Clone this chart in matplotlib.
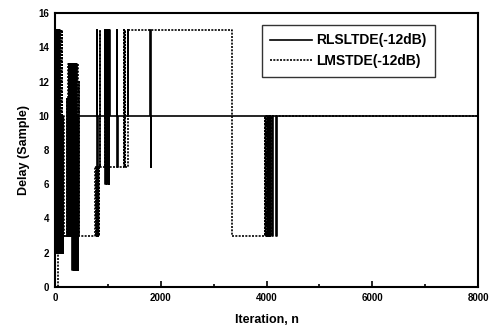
import matplotlib
matplotlib.use("Agg")
import matplotlib.pyplot as plt
from matplotlib.ticker import MultipleLocator

# RLSLTDE (-12dB) delay estimate, step trajectory (iteration, delay)
rls_n = [0, 10, 20, 30, 40, 50, 60, 70, 80, 90, 100, 110, 120, 130, 140, 150,
         160, 230, 240, 260, 270, 280, 290, 300, 310, 320, 330, 340, 350, 360,
         370, 380, 390, 400, 410, 420, 430, 440, 790, 800, 810,
         940, 955, 970, 985, 1000, 1015, 1030, 1045,
         1170, 1180, 1190, 1380, 1390, 1800, 1810, 1820,
         4110, 4120, 4180, 4190, 8000]
rls_d = [15, 2, 15, 2, 15, 2, 15, 2, 15, 2, 10, 2, 10, 2, 10, 2,
         3, 11, 3, 13, 3, 13, 3, 12, 3, 13, 1, 13, 1, 13,
         1, 13, 1, 13, 1, 10, 1, 10, 15, 7, 10,
         15, 6, 15, 6, 15, 6, 15, 10,
         15, 7, 10, 15, 10, 15, 7, 10,
         3, 10, 3, 10, 10]

# LMSTDE (-12dB) delay estimate, step trajectory (iteration, delay)
lms_n = [0, 60, 90, 105, 125, 140, 160, 170, 225, 235, 250, 265, 290, 305,
         330, 345, 370, 385, 410, 430, 445, 460, 470,
         760, 770, 780, 790, 800, 810, 820, 830, 840, 850, 860,
         940, 950, 960, 970, 980, 990, 1000, 1010, 1020, 1030, 1040,
         1300, 1310, 1320, 1330, 1385, 3340,
         3970, 3980, 3990, 4000, 4010, 4020, 4030, 4040, 4050, 4060, 4070,
         4080, 4090, 8000]
lms_d = [0, 2, 15, 3, 15, 3, 10, 3, 11, 3, 13, 3, 13, 3,
         13, 3, 13, 3, 13, 3, 12, 3, 3,
         7, 3, 7, 3, 7, 3, 7, 3, 7, 15, 7,
         15, 7, 15, 7, 15, 7, 15, 7, 15, 7, 7,
         15, 7, 15, 7, 15, 3,
         10, 3, 10, 3, 10, 3, 10, 3, 10, 3, 10,
         3, 10, 10]

x_ticks = [0, 2000, 4000, 6000, 8000]
y_ticks = [0, 2, 4, 6, 8, 10, 12, 14, 16]

plt.rcParams['font.family'] = ['Liberation Sans', 'DejaVu Sans']

fig = plt.figure(figsize=(4.92, 3.33), dpi=100)
ax = fig.add_axes([55 / 492, (333 - 287) / 333, 423 / 492, 274 / 333])

ax.plot(rls_n, rls_d, drawstyle='steps-post', color='black', lw=1.2,
        label='RLSLTDE(-12dB)')
ax.plot(lms_n, lms_d, drawstyle='steps-post', color='black', lw=1.2,
        linestyle=(0, (1.2, 0.8)), label='LMSTDE(-12dB)')

ax.set_xlim(0, 8000)
ax.set_ylim(0, 16)
ax.set_xticks(x_ticks)
ax.set_yticks(y_ticks)
ax.set_xticklabels([str(t) for t in x_ticks], fontsize=7, fontweight='bold')
ax.set_yticklabels([str(t) for t in y_ticks], fontsize=7, fontweight='bold')
ax.xaxis.set_minor_locator(MultipleLocator(1000))
ax.tick_params(which='both', direction='in', top=False, right=False, width=1.2)
ax.tick_params(which='major', length=4, pad=4)
ax.tick_params(which='minor', length=2)
ax.yaxis.set_minor_locator(MultipleLocator(16))

for s in ax.spines.values():
    s.set_linewidth(1.5)

ax.set_xlabel('Iteration, n', fontsize=9, fontweight='bold', labelpad=8)
ax.set_ylabel('Delay (Sample)', fontsize=9, fontweight='bold', labelpad=6)

leg = ax.legend(loc='upper right', bbox_to_anchor=(0.898, 0.956),
                borderaxespad=0.0, frameon=True, fancybox=False,
                edgecolor='black', handlelength=3.0, handletextpad=0.3,
                borderpad=0.6, labelspacing=0.5,
                prop={'weight': 'bold', 'size': 10})
leg.get_frame().set_linewidth(1.0)

fig.savefig('out.png', dpi=100)
